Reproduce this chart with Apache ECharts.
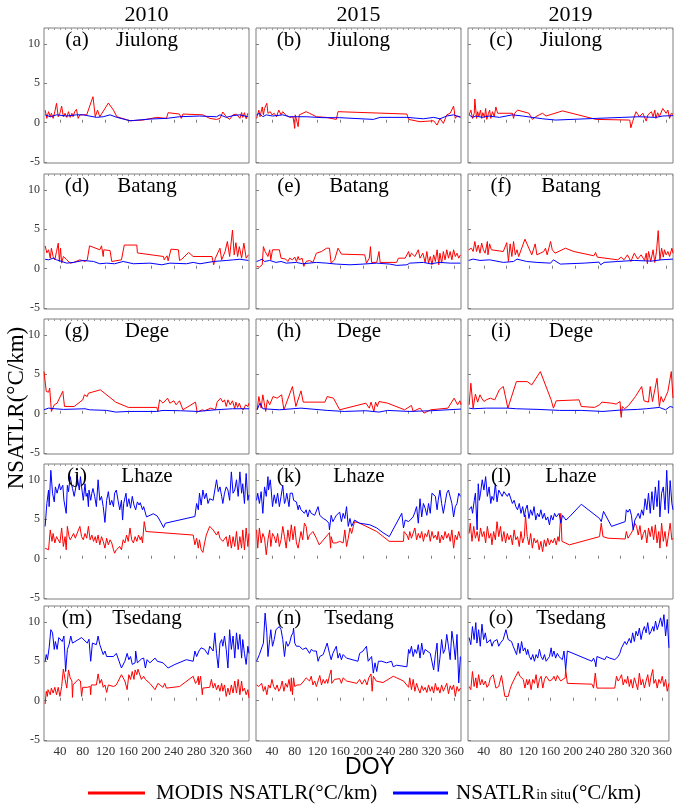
<!DOCTYPE html>
<html>
<head>
<meta charset="utf-8">
<script src="https://cdn.jsdelivr.net/npm/echarts@6/dist/echarts.min.js"></script>
<style>
html, body { margin: 0; padding: 0; background: #fff; }
#chart { width: 675px; height: 810px; }
</style>
</head>
<body>
<div id="chart"></div>
<script>
var years = ['2010', '2015', '2019'];
var stations = ['Jiulong', 'Batang', 'Dege', 'Lhaze', 'Tsedang'];
var tags = ['a', 'b', 'c', 'd', 'e', 'f', 'g', 'h', 'i', 'j', 'k', 'l', 'm', 'n', 'o'];
var xTicks = [40, 80, 120, 160, 200, 240, 280, 320, 360];
var yTicks = [-5, 0, 5, 10];
var topTicks = [20, 30, 40, 50, 60, 70, 80, 90, 100, 110, 120, 130, 140, 150, 160, 170, 180, 190, 200, 210, 220, 230, 240, 250, 260, 270, 280, 290, 300, 310, 320, 330, 340, 350, 360, 370];

// [DOY, NSATLR] pairs, MODIS (red) and in situ (blue)
var jiulong2010Modis = [[14,1.6],[17,0.55],[20,1.4],[23,0.76],[25,1.2],[28,0.55],[31,1.4],[34,2.46],[37,0.76],[40,1.2],[43,2.1],[46,0.76],[49,1.2],[52,0.68],[55,1.4],[58,0.68],[61,1.2],[63,0.76],[66,1.4],[69,1.7],[72,0.55],[75,1.0],[87,1.0],[98,3.3],[102,0.76],[106,1.6],[110,0.76],[125,2.5],[134,1.6],[140,0.76],[163,0.25],[186,0.34],[210,0.68],[227,0.55],[230,1.27],[250,1.1],[253,0.55],[256,1.1],[291,1.0],[294,0.76],[303,0.55],[315,0.42],[321,0.55],[326,1.36],[332,0.76],[338,0.42],[344,1.0],[350,1.1],[356,0.55],[359,1.3],[361,0.68],[364,1.27],[367,0.5],[370,1.2]];
var jiulong2010InSitu = [[14,1.0],[23,0.76],[34,1.0],[52,0.85],[69,1.0],[81,1.0],[104,0.68],[116,0.76],[128,1.0],[140,0.68],[163,0.25],[198,0.47],[227,0.55],[250,0.76],[285,0.85],[315,0.76],[321,1.0],[332,0.68],[344,0.9],[356,1.0],[370,0.76]];
var jiulong2015Modis = [[13,0.55],[17,1.6],[19,0.76],[23,2.0],[25,1.0],[27,1.8],[31,2.46],[33,1.2],[37,1.4],[40,1.0],[44,1.2],[48,0.76],[52,1.6],[56,1.0],[59,1.4],[64,1.0],[71,0.68],[77,0.76],[80,-0.72],[81,1.0],[84,1.2],[86,-0.5],[88,1.0],[91,1.2],[100,1.4],[106,1.2],[118,0.76],[135,0.68],[153,0.42],[156,1.4],[277,1.1],[280,0.42],[300,0.13],[324,0.25],[330,-0.3],[335,0.55],[341,-0.08],[347,1.0],[353,1.2],[359,2.1],[362,0.55],[365,0.85],[371,0.76]];
var jiulong2015InSitu = [[13,1.0],[18,1.2],[24,0.76],[30,1.0],[41,0.85],[59,1.0],[71,0.76],[100,0.76],[130,0.64],[159,0.64],[218,0.42],[230,0.68],[277,0.68],[306,0.5],[324,0.68],[335,0.5],[347,0.85],[359,1.0],[371,0.68]];
var jiulong2019Modis = [[14,1.0],[17,1.6],[20,0.55],[23,1.2],[24,3.0],[27,0.55],[29,1.4],[31,0.76],[34,1.6],[36,0.55],[38,1.27],[41,0.68],[43,1.8],[45,0.42],[48,1.2],[50,1.6],[52,0.55],[55,1.4],[58,0.76],[61,2.0],[64,1.2],[90,1.2],[92,0.55],[94,1.2],[96,1.0],[99,1.6],[119,1.2],[125,0.42],[131,0.76],[137,1.0],[143,1.2],[149,0.85],[178,1.5],[237,0.42],[296,0.34],[298,-0.64],[301,0.13],[307,1.4],[313,0.76],[319,1.2],[325,0.21],[328,1.0],[334,1.4],[337,0.76],[340,1.6],[342,0.55],[345,1.27],[348,0.76],[354,1.8],[360,1.2],[363,1.6],[366,0.55],[369,1.2],[372,1.06]];
var jiulong2019InSitu = [[14,1.0],[20,0.68],[26,0.85],[37,0.68],[49,0.85],[67,0.68],[90,1.0],[108,0.85],[143,0.5],[166,0.34],[237,0.55],[284,0.68],[313,0.76],[342,0.68],[354,0.85],[372,0.9]];

var batang2010Modis = [[14,2.9],[17,2.0],[20,2.4],[23,1.34],[25,2.6],[28,1.55],[31,1.13],[34,2.18],[37,3.24],[39,0.92],[41,2.6],[43,0.71],[46,1.55],[52,1.13],[58,0.71],[64,0.8],[75,1.13],[84,0.92],[88,1.13],[92,2.9],[110,2.4],[113,2.9],[116,1.55],[117,2.4],[128,2.3],[131,0.92],[148,1.13],[153,3.0],[175,3.0],[176,2.0],[222,1.55],[223,1.13],[228,1.64],[230,1.0],[235,2.48],[248,2.4],[250,1.05],[254,1.22],[266,2.06],[274,1.55],[307,1.55],[310,0.5],[313,1.34],[321,2.6],[324,1.13],[330,2.18],[334,3.45],[338,1.55],[343,4.9],[346,1.76],[349,3.3],[352,1.55],[355,2.8],[359,1.34],[363,3.24],[367,1.34],[371,1.76]];
var batang2010InSitu = [[14,1.2],[20,1.13],[28,1.34],[34,1.13],[43,0.92],[52,0.71],[64,0.8],[81,1.05],[99,0.92],[110,0.63],[122,0.71],[136,0.63],[151,0.92],[169,0.63],[198,0.71],[219,0.5],[233,0.71],[262,0.63],[274,0.8],[286,0.63],[310,0.92],[333,1.05],[345,1.13],[356,1.2],[371,1.05]];
var batang2015Modis = [[13,0.3],[18,0.2],[23,0.5],[25,2.8],[28,2.18],[33,1.55],[36,2.4],[38,1.13],[41,2.4],[44,2.48],[53,2.4],[56,1.34],[59,1.13],[64,1.22],[68,0.92],[71,1.34],[76,1.13],[80,1.47],[83,0.92],[86,1.55],[88,1.13],[93,1.34],[96,0.3],[100,0.92],[106,1.05],[112,0.8],[118,1.97],[127,2.18],[136,2.6],[141,2.6],[144,0.71],[150,1.13],[156,2.6],[162,1.85],[203,1.76],[206,0.71],[211,1.34],[213,2.8],[215,0.8],[224,0.8],[228,2.18],[230,0.8],[259,0.8],[262,1.34],[274,1.34],[277,1.55],[280,2.18],[282,1.47],[285,1.97],[291,1.55],[297,2.4],[300,1.34],[305,1.97],[309,0.8],[312,2.18],[315,0.71],[318,1.55],[321,0.5],[324,1.76],[327,0.92],[330,2.4],[333,0.5],[335,1.97],[338,0.71],[341,2.18],[344,1.13],[347,2.4],[350,1.34],[353,2.18],[356,1.13],[359,2.4],[362,1.55],[365,1.97],[368,1.34],[371,1.76]];
var batang2015InSitu = [[13,0.92],[18,1.05],[23,1.22],[27,0.92],[36,1.05],[47,0.8],[56,0.92],[59,1.13],[65,0.71],[83,0.8],[94,0.63],[118,0.8],[136,0.71],[153,0.59],[177,0.5],[200,0.59],[224,0.71],[247,0.59],[259,0.42],[277,0.5],[282,0.71],[306,0.8],[318,0.63],[335,0.8],[353,0.71],[371,0.71]];
var batang2019Modis = [[13,2.4],[18,2.6],[21,2.18],[24,3.45],[27,2.18],[30,3.0],[33,1.97],[36,3.24],[39,2.4],[42,1.97],[46,3.45],[47,1.76],[50,3.15],[53,2.4],[74,2.18],[80,3.3],[83,0.92],[86,3.15],[89,1.55],[92,3.45],[95,1.76],[98,2.4],[101,1.55],[112,3.74],[124,1.76],[127,1.76],[130,3.15],[133,1.76],[145,2.18],[148,2.6],[151,1.76],[154,1.55],[157,3.45],[160,2.4],[165,1.97],[183,2.6],[198,2.18],[233,1.64],[236,2.06],[239,1.47],[275,1.13],[281,1.47],[286,1.13],[292,1.76],[298,0.92],[304,1.97],[310,1.22],[316,1.76],[322,1.05],[325,1.97],[327,0.63],[329,2.18],[333,0.92],[337,2.4],[340,0.8],[343,2.18],[346,4.83],[349,1.13],[352,2.6],[355,1.47],[357,2.4],[360,1.76],[363,2.18],[366,1.55],[370,2.6],[372,1.97]];
var batang2019InSitu = [[13,1.05],[21,1.22],[33,1.05],[50,1.13],[74,0.8],[92,0.92],[98,1.22],[115,0.92],[133,0.8],[157,0.71],[162,1.13],[174,0.59],[216,0.71],[242,0.84],[245,0.5],[251,0.8],[275,0.92],[304,1.05],[334,0.97],[351,1.13],[372,1.22]];

var dege2010Modis = [[12,5.34],[16,2.82],[20,2.73],[22,3.24],[25,0.29],[30,1.13],[35,1.34],[45,2.85],[48,0.92],[65,0.92],[80,1.76],[83,2.4],[88,2.18],[90,2.6],[111,3.03],[138,1.47],[160,0.8],[210,0.8],[212,0.29],[215,1.76],[221,1.34],[229,1.97],[233,1.34],[240,1.64],[244,1.13],[250,1.64],[256,0.5],[278,1.47],[281,0.21],[290,0.5],[294,0.38],[305,0.71],[313,0.5],[316,1.47],[322,1.97],[326,1.47],[329,1.76],[332,0.92],[335,1.76],[339,1.13],[343,1.64],[347,0.63],[349,1.47],[352,0.8],[355,1.34],[358,0.71],[362,0.5],[366,1.13],[370,0.92],[372,1.34]];
var dege2010InSitu = [[12,0.5],[20,0.71],[31,0.63],[46,0.55],[84,0.63],[92,0.5],[122,0.42],[138,0.21],[160,0.29],[210,0.29],[221,0.42],[252,0.38],[282,0.29],[313,0.5],[343,0.63],[372,0.63]];
var dege2015Modis = [[14,0.5],[17,2.18],[21,0.71],[24,2.4],[29,0.29],[32,1.76],[36,1.13],[42,2.18],[49,1.97],[57,2.4],[61,0.5],[76,3.45],[82,0.92],[91,2.9],[95,1.47],[133,1.47],[137,2.18],[148,1.97],[159,0.5],[205,1.34],[211,0.71],[214,1.47],[219,0.29],[222,1.47],[225,0.92],[228,1.55],[231,1.76],[243,1.34],[273,0.5],[285,1.05],[288,0.29],[300,0.71],[307,0.08],[319,0.5],[349,0.71],[360,1.97],[366,1.13],[370,1.64],[372,1.13]];
var dege2015InSitu = [[14,0.5],[19,1.34],[24,0.63],[53,0.5],[91,0.71],[137,0.42],[167,0.29],[205,0.38],[228,0.21],[243,0.42],[281,0.29],[319,0.38],[349,0.5],[372,0.59]];
var dege2019Modis = [[14,1.13],[17,3.87],[21,0.71],[25,2.48],[29,1.47],[33,2.4],[36,1.97],[40,1.55],[44,1.76],[51,1.97],[59,1.76],[67,3.03],[74,3.45],[82,0.71],[97,4.07],[116,4.07],[124,3.65],[139,5.34],[158,1.76],[162,0.71],[167,1.64],[207,1.76],[211,0.92],[234,0.8],[243,1.13],[247,1.47],[264,1.34],[272,1.22],[279,1.55],[281,-0.46],[283,0.92],[287,0.63],[294,1.05],[306,2.18],[317,3.45],[321,1.64],[329,1.47],[332,3.45],[336,1.55],[344,4.49],[348,0.92],[351,2.18],[355,1.47],[363,2.82],[369,5.34],[372,1.97]];
var dege2019InSitu = [[14,0.71],[21,0.63],[44,0.71],[82,0.71],[97,0.63],[135,0.55],[173,0.42],[211,0.42],[249,0.29],[279,0.46],[310,0.55],[325,0.63],[348,0.8],[359,0.5],[367,0.92],[372,0.8]];

var lhaze2010Modis = [[14,1.34],[17,1.55],[20,1.13],[23,3.65],[26,2.2],[28,3.2],[31,2.0],[34,2.8],[37,2.4],[40,2.0],[43,3.9],[46,1.55],[49,2.8],[51,1.13],[53,4.1],[56,2.8],[58,2.4],[61,2.8],[64,3.2],[67,2.6],[69,3.0],[72,2.8],[75,4.1],[78,2.8],[81,2.4],[84,3.2],[87,2.6],[90,4.1],[93,2.4],[96,3.0],[99,2.2],[102,2.8],[104,2.0],[107,3.0],[110,1.76],[113,2.8],[116,2.2],[119,1.34],[122,2.6],[125,1.76],[128,2.4],[131,2.0],[134,1.13],[136,0.7],[139,1.13],[142,0.9],[145,1.55],[148,1.13],[151,2.4],[154,2.0],[157,3.0],[160,2.2],[163,3.9],[166,2.4],[169,2.0],[172,2.8],[175,2.2],[178,3.0],[181,2.4],[183,2.8],[185,2.0],[188,4.7],[191,3.45],[274,3.0],[277,1.76],[280,2.6],[283,1.34],[285,2.4],[288,1.13],[291,0.8],[294,2.0],[297,3.0],[303,4.1],[309,3.65],[312,3.9],[315,3.0],[318,3.45],[321,2.6],[324,2.8],[326,2.2],[329,2.4],[332,2.8],[335,1.55],[338,3.0],[341,1.34],[344,2.8],[347,1.55],[350,3.45],[353,1.13],[356,2.8],[359,1.34],[361,3.65],[364,1.13],[367,3.9],[370,1.55],[372,3.2]];
var lhaze2010InSitu = [[14,4.1],[17,7.0],[20,8.7],[21,6.6],[24,11.2],[27,8.3],[30,7.2],[32,9.1],[35,8.3],[39,9.5],[41,8.7],[45,9.3],[47,7.4],[51,5.75],[53,9.3],[55,8.5],[58,10.4],[62,8.9],[65,7.9],[68,9.1],[70,10.6],[74,8.7],[76,10.4],[78,9.1],[81,7.4],[84,9.5],[86,7.9],[88,8.3],[90,6.6],[91,8.7],[94,7.4],[96,8.3],[98,8.9],[101,7.9],[104,6.6],[107,10.0],[110,7.4],[113,7.9],[116,6.6],[119,4.6],[122,7.4],[125,8.5],[128,6.8],[131,7.4],[134,6.6],[136,8.3],[139,8.7],[142,7.4],[145,6.2],[148,7.4],[150,4.9],[152,7.0],[156,8.3],[158,6.6],[161,7.6],[164,6.4],[167,7.9],[170,6.8],[173,6.2],[176,7.2],[179,6.8],[181,7.1],[185,6.2],[187,6.6],[192,5.3],[204,5.7],[211,5.4],[215,4.9],[222,3.95],[225,4.5],[277,5.35],[280,7.0],[283,6.2],[285,8.3],[288,6.8],[291,8.7],[294,7.6],[297,8.3],[300,7.0],[303,7.6],[309,7.4],[315,10.0],[318,8.5],[321,9.1],[324,7.9],[326,7.0],[329,8.3],[332,9.1],[335,8.7],[338,7.4],[341,11.0],[344,8.3],[347,8.7],[350,10.0],[353,7.9],[356,11.0],[359,8.3],[361,9.5],[364,7.0],[367,10.8],[370,7.4],[372,8.1]];
var lhaze2015Modis = [[13,3.65],[15,1.34],[18,3.9],[21,2.0],[24,3.2],[27,2.6],[30,0.5],[33,2.4],[36,3.65],[38,1.55],[41,3.2],[44,2.8],[47,2.0],[50,3.2],[53,1.55],[56,2.4],[59,4.1],[62,2.8],[65,1.34],[68,3.65],[71,2.2],[74,4.3],[77,2.4],[80,4.1],[83,2.0],[86,1.34],[88,1.34],[91,3.45],[94,2.4],[97,4.5],[100,4.1],[103,2.4],[106,3.0],[112,3.45],[118,2.6],[123,1.76],[141,3.3],[143,1.34],[144,2.8],[147,2.0],[150,2.2],[153,2.0],[159,2.2],[165,2.0],[168,3.65],[171,1.55],[174,2.6],[177,3.9],[180,3.2],[183,4.1],[185,4.7],[194,4.5],[224,3.45],[246,2.2],[271,2.2],[272,3.45],[277,3.0],[280,2.4],[282,3.45],[285,2.6],[288,2.8],[291,3.9],[294,2.4],[297,3.2],[300,2.6],[303,3.45],[306,2.2],[309,3.2],[312,2.8],[315,3.65],[318,2.2],[321,3.45],[324,2.6],[327,3.0],[330,2.4],[332,3.45],[335,2.0],[338,3.0],[341,2.4],[344,3.45],[347,2.6],[350,3.2],[353,2.2],[356,3.65],[359,1.34],[362,3.0],[365,2.4],[368,3.45],[371,2.6]];
var lhaze2015InSitu = [[13,7.4],[15,8.3],[18,7.0],[21,8.5],[24,5.75],[27,9.1],[30,7.9],[33,10.4],[34,8.7],[37,10.0],[38,9.3],[41,6.6],[44,8.1],[47,7.0],[50,8.3],[53,6.6],[56,7.9],[59,9.3],[62,7.0],[64,7.4],[66,8.3],[70,6.6],[72,8.3],[76,8.3],[78,7.4],[83,7.2],[86,6.2],[88,6.8],[91,6.2],[94,6.4],[97,5.75],[100,6.2],[103,5.3],[106,6.2],[109,5.75],[112,5.9],[115,5.5],[118,5.75],[121,6.6],[124,5.5],[130,5.1],[135,4.9],[140,4.5],[141,3.65],[144,5.5],[147,4.7],[150,5.1],[153,5.5],[156,5.75],[159,5.9],[162,4.7],[165,5.75],[168,5.1],[171,6.6],[174,4.1],[177,5.1],[180,4.1],[183,4.3],[185,4.9],[188,4.7],[194,4.5],[212,4.3],[224,3.9],[235,3.3],[246,2.8],[268,5.75],[271,3.9],[274,4.9],[280,4.7],[282,4.5],[288,5.3],[291,5.9],[294,6.6],[297,4.5],[300,7.6],[303,5.3],[306,7.0],[309,6.4],[312,5.5],[315,7.0],[318,5.75],[321,8.3],[324,8.5],[327,7.9],[330,6.2],[332,7.4],[335,8.7],[338,7.0],[341,5.75],[344,7.0],[347,8.3],[350,8.7],[353,8.5],[356,7.0],[359,5.3],[362,6.6],[365,7.0],[368,8.3],[371,7.9]];
var lhaze2019Modis = [[14,3.2],[16,4.5],[19,2.2],[22,4.1],[25,2.6],[28,3.45],[31,2.2],[34,3.9],[37,2.8],[40,3.45],[43,2.0],[46,4.1],[49,2.6],[52,3.2],[54,1.76],[57,3.45],[60,2.4],[63,4.7],[66,2.8],[69,4.1],[72,2.2],[75,3.45],[78,2.0],[81,3.2],[84,2.4],[87,3.0],[90,1.76],[93,3.65],[96,2.4],[99,2.8],[102,1.55],[105,3.45],[108,2.0],[111,2.8],[113,5.55],[116,2.8],[119,1.76],[122,3.2],[125,1.34],[128,2.6],[131,2.0],[134,2.4],[137,1.13],[140,2.2],[143,0.9],[146,2.4],[149,1.55],[152,2.6],[155,1.76],[158,2.4],[161,2.0],[164,2.6],[167,1.76],[170,2.8],[172,2.2],[175,5.75],[177,2.2],[178,2.0],[190,1.76],[243,2.8],[246,4.5],[249,2.8],[258,2.6],[288,2.5],[290,3.45],[293,2.6],[296,2.4],[302,3.65],[305,4.5],[308,4.1],[311,3.0],[314,4.2],[317,2.4],[320,3.2],[323,3.65],[326,2.0],[329,3.9],[332,2.8],[335,4.1],[338,2.4],[341,4.3],[344,2.0],[347,3.45],[349,1.34],[352,4.5],[355,2.2],[358,3.45],[361,1.55],[364,3.0],[367,4.5],[370,2.4],[372,2.6]];
var lhaze2019InSitu = [[14,6.2],[18,6.6],[20,5.75],[23,7.4],[25,8.3],[28,3.65],[30,9.5],[32,7.4],[34,8.3],[37,10.0],[40,8.7],[43,10.4],[46,7.9],[49,9.1],[52,7.0],[54,7.9],[57,7.4],[60,9.5],[63,7.2],[66,8.7],[69,8.3],[72,7.9],[75,8.5],[78,8.3],[81,7.9],[84,8.3],[90,7.0],[93,7.4],[96,6.6],[99,6.2],[102,7.0],[105,5.75],[108,6.6],[111,5.3],[113,6.2],[116,6.8],[119,5.1],[122,6.2],[125,5.5],[128,6.6],[131,4.9],[134,5.75],[137,5.3],[140,6.2],[143,5.1],[146,5.75],[149,4.9],[152,5.3],[155,4.3],[158,5.5],[161,4.9],[164,5.75],[167,5.3],[172,5.75],[175,4.5],[178,5.5],[181,5.3],[184,4.9],[190,5.3],[211,6.9],[243,5.1],[246,4.7],[250,6.0],[264,4.1],[288,4.7],[290,6.2],[293,5.9],[296,6.3],[299,5.5],[302,3.65],[305,4.9],[308,5.3],[311,5.75],[314,5.1],[317,6.2],[320,5.5],[323,7.6],[326,6.2],[329,8.3],[332,5.75],[335,8.5],[338,6.2],[341,9.1],[344,6.6],[347,9.9],[349,5.3],[352,8.3],[355,9.1],[358,6.2],[361,11.2],[364,5.75],[367,9.9],[370,7.0],[372,6.2]];

var tsedang2010Modis = [[14,-0.42],[16,1.2],[18,0.55],[19,1.4],[23,0.76],[25,1.6],[28,0.97],[31,1.7],[34,0.76],[37,1.7],[40,0.55],[43,1.8],[46,4.0],[49,2.7],[52,1.6],[55,3.9],[58,2.9],[61,2.5],[62,0.42],[63,2.0],[72,2.7],[76,2.5],[78,0.55],[80,1.7],[88,1.7],[90,1.9],[93,1.8],[94,0.76],[95,2.0],[104,2.0],[107,3.4],[110,2.2],[113,2.7],[116,1.7],[119,2.0],[122,1.05],[125,2.0],[134,1.8],[139,2.0],[148,3.3],[154,2.5],[158,1.4],[161,3.3],[164,2.7],[167,3.7],[170,2.7],[172,3.9],[175,3.3],[177,4.0],[183,2.7],[187,3.1],[190,2.7],[198,2.2],[207,1.4],[212,2.2],[221,1.7],[224,2.2],[227,1.6],[250,1.8],[274,3.1],[278,2.2],[281,2.5],[283,3.1],[284,2.0],[287,3.1],[290,0.76],[291,1.6],[303,1.7],[306,2.7],[309,1.6],[312,2.2],[315,1.4],[318,2.0],[321,1.2],[324,2.2],[326,1.2],[329,2.0],[332,0.55],[335,1.6],[338,0.76],[341,2.0],[344,0.97],[347,2.5],[350,0.97],[353,2.7],[356,0.76],[359,2.5],[361,1.2],[364,1.6],[367,0.76],[370,1.4],[372,0.34]];
var tsedang2010InSitu = [[14,5.0],[16,5.85],[18,5.2],[21,6.7],[24,9.0],[27,8.6],[30,6.5],[32,7.5],[35,6.5],[38,8.0],[41,8.0],[44,7.5],[47,8.2],[50,3.7],[53,6.5],[56,7.1],[59,8.2],[62,7.3],[65,7.5],[78,8.0],[88,7.3],[91,7.8],[94,5.0],[97,7.3],[104,7.1],[107,8.2],[110,7.1],[113,6.9],[116,5.85],[119,6.3],[122,5.6],[134,5.6],[139,6.0],[142,5.85],[148,4.15],[154,5.0],[158,6.0],[161,5.2],[164,5.6],[167,4.6],[172,4.8],[173,6.3],[176,4.8],[179,5.0],[183,5.3],[187,5.4],[190,4.15],[193,5.2],[198,4.8],[207,5.4],[211,5.0],[221,4.8],[230,4.15],[242,4.6],[262,5.2],[274,5.0],[277,6.3],[280,5.6],[284,6.3],[288,6.7],[294,6.5],[300,5.85],[303,6.9],[309,6.3],[312,8.6],[315,6.0],[318,4.15],[321,7.3],[324,7.75],[326,6.9],[329,8.2],[332,6.5],[335,4.15],[338,9.0],[341,6.5],[344,8.2],[347,5.4],[350,8.6],[353,6.5],[356,8.4],[359,5.4],[361,7.75],[364,6.0],[367,4.6],[370,6.9],[372,6.0]];
var tsedang2015Modis = [[13,2.0],[17,1.8],[19,1.6],[22,2.2],[25,1.2],[28,1.8],[31,0.76],[34,2.0],[37,1.6],[40,2.7],[43,1.8],[46,1.4],[49,2.0],[52,1.2],[55,1.6],[58,2.5],[61,1.2],[64,2.2],[67,1.7],[70,2.7],[73,1.2],[74,2.9],[76,0.76],[78,2.9],[80,1.8],[84,2.0],[90,2.0],[96,2.5],[100,2.9],[103,3.1],[106,2.5],[109,3.1],[112,2.0],[115,2.5],[118,1.8],[121,2.5],[124,3.2],[127,2.0],[130,2.7],[133,2.2],[136,2.7],[138,2.2],[141,3.2],[144,3.9],[145,2.2],[150,2.7],[153,2.5],[159,2.8],[162,2.2],[165,2.9],[171,2.5],[189,2.2],[194,2.7],[198,2.1],[203,2.7],[207,2.0],[210,2.9],[214,3.4],[216,1.2],[218,3.1],[223,2.5],[235,2.3],[244,2.7],[253,3.1],[259,2.9],[265,2.7],[271,2.5],[280,1.7],[282,2.9],[285,1.4],[288,2.7],[291,1.2],[294,2.2],[297,1.5],[300,0.97],[303,1.9],[306,1.3],[309,1.7],[312,1.05],[315,2.0],[318,1.2],[321,1.8],[324,0.97],[327,2.2],[330,1.3],[332,1.7],[335,0.97],[338,2.0],[341,1.2],[344,1.7],[347,2.2],[350,0.89],[353,1.9],[356,1.4],[359,2.0],[362,0.55],[365,1.8],[368,1.2],[371,1.6]];
var tsedang2015InSitu = [[13,5.0],[18,5.85],[23,6.9],[25,7.3],[28,11.1],[31,8.6],[33,5.6],[36,7.75],[38,9.0],[41,6.9],[44,7.75],[47,9.0],[50,9.2],[53,9.4],[56,9.0],[59,7.75],[62,5.6],[65,7.5],[68,6.9],[71,7.3],[74,8.2],[77,8.6],[78,9.2],[80,7.3],[83,6.9],[86,6.7],[88,6.9],[94,6.5],[100,6.7],[106,6.0],[109,6.5],[113,6.3],[118,6.3],[121,5.0],[124,5.6],[130,5.85],[133,6.0],[137,7.3],[141,6.0],[144,5.2],[147,6.0],[153,6.9],[156,5.4],[159,6.0],[162,5.2],[165,5.85],[171,5.4],[191,5.0],[194,6.0],[200,6.3],[203,6.5],[206,6.9],[209,5.0],[212,5.2],[215,5.6],[218,3.5],[221,4.8],[224,3.7],[227,5.0],[233,5.0],[241,4.8],[250,5.0],[253,4.3],[259,4.5],[277,4.3],[280,6.5],[282,6.0],[285,6.9],[288,5.6],[291,6.5],[294,6.0],[297,7.1],[300,5.4],[303,7.3],[306,5.85],[309,6.5],[312,6.3],[318,6.0],[321,5.85],[324,3.9],[327,5.85],[330,7.3],[332,3.7],[335,5.4],[338,7.75],[341,6.0],[344,6.5],[347,8.4],[350,6.9],[353,5.2],[356,8.8],[359,7.3],[362,5.2],[365,8.4],[368,2.25],[371,5.6]];
var tsedang2019Modis = [[14,1.8],[17,1.4],[20,3.7],[23,1.8],[26,2.9],[28,1.6],[31,3.3],[34,2.0],[37,2.7],[40,2.0],[43,2.5],[46,1.7],[49,2.0],[52,2.9],[57,3.3],[60,3.2],[62,1.6],[67,1.8],[72,3.2],[75,3.3],[78,0.55],[84,0.55],[87,1.4],[90,2.0],[96,2.9],[102,3.7],[105,3.1],[111,2.7],[114,1.6],[117,2.7],[119,2.0],[122,2.7],[125,1.4],[128,2.7],[131,2.2],[134,3.3],[137,1.6],[140,2.7],[143,3.1],[146,1.6],[149,2.7],[152,3.1],[158,2.5],[163,2.7],[166,3.1],[169,2.5],[172,3.2],[175,3.3],[178,2.5],[181,2.7],[186,2.9],[187,3.95],[190,2.2],[234,2.1],[237,1.6],[240,3.5],[243,1.6],[246,1.4],[275,1.6],[278,3.1],[281,2.5],[284,2.8],[287,3.3],[290,2.0],[293,2.7],[296,2.2],[298,3.1],[301,1.8],[304,2.7],[307,1.6],[310,2.9],[313,2.2],[316,1.4],[319,3.5],[322,2.0],[325,2.7],[328,1.6],[331,2.5],[334,3.3],[337,1.8],[340,3.1],[343,3.95],[345,2.2],[348,2.7],[351,1.6],[354,2.7],[357,2.2],[360,3.1],[363,1.8],[366,2.7],[369,1.2],[372,2.2]];
var tsedang2019InSitu = [[14,8.0],[17,7.1],[20,9.4],[23,7.75],[26,9.9],[28,7.3],[31,9.0],[34,6.9],[37,9.7],[40,7.75],[43,8.6],[46,7.3],[52,7.75],[55,6.9],[58,7.5],[64,7.75],[67,6.9],[70,7.3],[75,7.75],[80,9.0],[84,7.75],[90,7.5],[93,6.9],[99,5.85],[102,7.3],[105,6.0],[108,7.5],[111,6.3],[114,6.7],[117,5.85],[119,6.5],[122,5.6],[125,5.2],[128,5.85],[131,5.0],[134,5.85],[137,5.4],[140,6.5],[143,5.6],[146,5.2],[149,5.85],[152,5.0],[158,5.6],[161,6.7],[163,5.6],[166,6.3],[169,5.4],[172,6.0],[175,5.6],[181,5.2],[184,6.3],[187,3.95],[190,6.3],[234,5.0],[237,5.4],[240,4.8],[241,4.3],[243,5.6],[246,5.6],[257,5.2],[260,5.6],[266,5.4],[275,5.2],[281,5.6],[284,6.0],[287,6.7],[290,6.5],[293,7.5],[296,7.1],[298,7.3],[301,7.9],[304,7.3],[307,8.6],[310,7.5],[313,8.8],[316,8.2],[319,9.2],[322,7.75],[325,8.8],[328,9.4],[331,8.6],[334,9.9],[337,8.4],[340,8.8],[343,9.4],[345,8.8],[348,10.1],[351,9.0],[354,9.7],[357,10.5],[360,9.4],[363,10.9],[366,8.2],[369,10.3],[372,6.7]];

var modisRows = [
    [jiulong2010Modis, jiulong2015Modis, jiulong2019Modis],
    [batang2010Modis, batang2015Modis, batang2019Modis],
    [dege2010Modis, dege2015Modis, dege2019Modis],
    [lhaze2010Modis, lhaze2015Modis, lhaze2019Modis],
    [tsedang2010Modis, tsedang2015Modis, tsedang2019Modis]
];
var inSituRows = [
    [jiulong2010InSitu, jiulong2015InSitu, jiulong2019InSitu],
    [batang2010InSitu, batang2015InSitu, batang2019InSitu],
    [dege2010InSitu, dege2015InSitu, dege2019InSitu],
    [lhaze2010InSitu, lhaze2015InSitu, lhaze2019InSitu],
    [tsedang2010InSitu, tsedang2015InSitu, tsedang2019InSitu]
];

var chart = echarts.init(document.getElementById('chart'));

var lefts = [44, 256, 468];
var tops = [28, 174, 319, 464, 606];
var W = 205, H = 135;
var serif = '"Liberation Serif", "Times New Roman", serif';
var frame = '#7f7f7f';

var grids = [], xAxes = [], yAxes = [], series = [], graphics = [];

for (var r = 0; r < 5; r++) {
    for (var c = 0; c < 3; c++) {
        var k = r * 3 + c;
        grids.push({
            left: lefts[c], top: tops[r], width: W, height: H,
            show: true, borderColor: frame, borderWidth: 1
        });
        xAxes.push({
            gridIndex: k, type: 'value', min: 12, max: 372,
            axisLine: {show: false},
            splitLine: {show: false},
            axisTick: {show: true, inside: true, length: 3, customValues: xTicks, lineStyle: {color: frame}},
            axisLabel: {show: r === 4, customValues: xTicks, fontFamily: serif, fontSize: 13, color: '#333', margin: 4}
        });
        // top edge: fine ticks only
        xAxes.push({
            gridIndex: k, type: 'value', min: 12, max: 372, position: 'top',
            axisLine: {show: false},
            splitLine: {show: false},
            axisTick: {show: true, inside: true, length: 2, customValues: topTicks, lineStyle: {color: '#999'}},
            axisLabel: {show: false}
        });
        yAxes.push({
            gridIndex: k, type: 'value', min: -5.1, max: 12,
            axisLine: {show: false},
            splitLine: {show: false},
            axisTick: {show: true, inside: true, length: 3, customValues: yTicks, lineStyle: {color: frame}},
            axisLabel: {show: c === 0, customValues: yTicks, fontFamily: serif, fontSize: 12, color: '#333', margin: 4}
        });
        series.push({
            name: 'MODIS', type: 'line', xAxisIndex: 2 * k, yAxisIndex: k,
            data: modisRows[r][c], symbol: 'none', lineStyle: {color: '#ff0000', width: 1}
        });
        series.push({
            name: 'in situ', type: 'line', xAxisIndex: 2 * k, yAxisIndex: k,
            data: inSituRows[r][c], symbol: 'none', lineStyle: {color: '#0000ff', width: 1}
        });
        graphics.push({
            type: 'text', x: lefts[c] + 33, y: tops[r] + 12, z: 10,
            style: {text: '(' + tags[k] + ')', font: '21px ' + serif, fill: '#000', align: 'center', verticalAlign: 'middle'}
        });
        graphics.push({
            type: 'text', x: lefts[c] + 103, y: tops[r] + 12, z: 10,
            style: {text: stations[r], font: '21px ' + serif, fill: '#000', align: 'center', verticalAlign: 'middle'}
        });
    }
}

for (var c = 0; c < 3; c++) {
    graphics.push({
        type: 'text', x: lefts[c] + W / 2, y: 15,
        style: {text: years[c], font: '22px ' + serif, fill: '#000', align: 'center', verticalAlign: 'middle'}
    });
}

// axis titles
graphics.push({
    type: 'text', x: 17, y: 408, rotation: Math.PI / 2,
    style: {text: 'NSATLR(°C/km)', font: '23px ' + serif, fill: '#000', align: 'center', verticalAlign: 'middle'}
});
graphics.push({
    type: 'text', x: 370, y: 768,
    style: {text: 'DOY', font: '23px "Liberation Sans", Arial, sans-serif', fill: '#000', align: 'center', verticalAlign: 'middle'}
});

// legend
graphics.push({type: 'line', shape: {x1: 88, y1: 793, x2: 145, y2: 793}, style: {stroke: '#ff0000', lineWidth: 3}});
graphics.push({
    type: 'text', x: 156, y: 793,
    style: {text: 'MODIS NSATLR(°C/km)', font: '21px ' + serif, fill: '#000', align: 'left', verticalAlign: 'middle'}
});
graphics.push({type: 'line', shape: {x1: 393, y1: 793, x2: 448, y2: 793}, style: {stroke: '#0000ff', lineWidth: 3}});
graphics.push({
    type: 'text', x: 456, y: 793,
    style: {
        text: '{a|NSATLR}{b|in situ}{a|(°C/km)}',
        align: 'left', verticalAlign: 'middle',
        rich: {
            a: {fontFamily: serif, fontSize: 21, fill: '#000', verticalAlign: 'bottom'},
            b: {fontFamily: serif, fontSize: 14, fill: '#000', verticalAlign: 'bottom', padding: [0, 1, 1, 1]}
        }
    }
});

var option = {
    animation: false,
    backgroundColor: '#fff',
    grid: grids,
    xAxis: xAxes,
    yAxis: yAxes,
    series: series,
    graphic: graphics
};
chart.setOption(option);
</script>
</body>
</html>
